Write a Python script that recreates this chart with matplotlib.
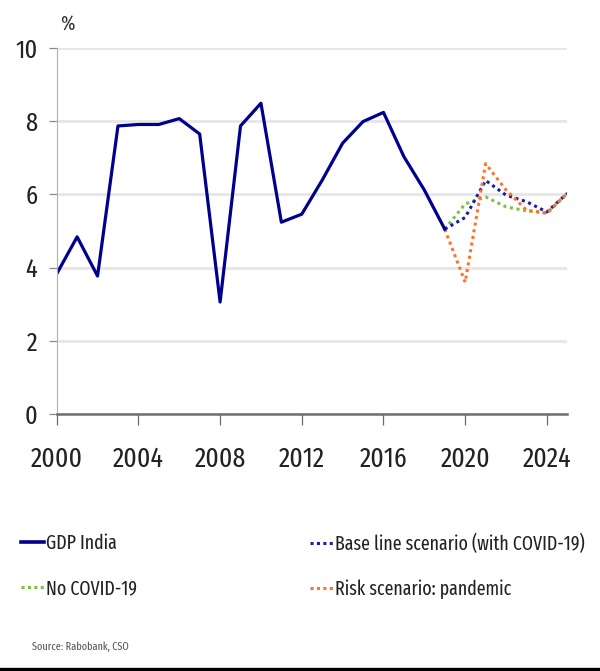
import matplotlib
matplotlib.use("Agg")
from matplotlib import pyplot as plt
from matplotlib.lines import Line2D

plt.rcParams['font.family'] = ['Fira Sans Extra Condensed', 'DejaVu Sans']

# historical GDP growth, %
years = list(range(2000, 2020))
gdp = [3.83, 4.84, 3.77, 7.87, 7.91, 7.91, 8.07, 7.65, 3.06, 7.87,
       8.49, 5.24, 5.46, 6.39, 7.40, 7.99, 8.24, 7.03, 6.12, 5.05]

# scenarios 2019-2025
scen_years = list(range(2019, 2026))
base_line = [5.05, 5.37, 6.38, 5.98, 5.80, 5.52, 6.03]
no_covid = [5.05, 5.74, 5.93, 5.66, 5.55, 5.50, 6.03]
risk = [5.05, 3.60, 6.84, 6.12, 5.57, 5.48, 6.03]

c_gdp = "#00008f"
c_base = "#1b1ba8"
c_nocov = "#7cc242"
c_risk = "#ff7327"
dots = (0, (1, 1.2))

fig = plt.figure(figsize=(6, 6.71), dpi=100)
ax = fig.add_axes([0.0945, 0.383, 0.851, 0.5455])

ax.grid(axis="y", color="#e6e6e6", linewidth=2)
ax.set_axisbelow(True)

ax.plot(scen_years, no_covid, color=c_nocov, linestyle=dots, linewidth=2.2)
ax.plot(scen_years, base_line, color=c_base, linestyle=dots, linewidth=2.2)
ax.plot(scen_years, risk, color=c_risk, linestyle=dots, linewidth=2.2)
ax.plot(years, gdp, color=c_gdp, linewidth=2.3)

ax.set_xlim(2000, 2025)
ax.set_ylim(0, 10)
ax.set_xticks(range(2000, 2025, 4))
ax.set_yticks(range(0, 11, 2))

for s in ["top", "right"]:
    ax.spines[s].set_visible(False)
ax.spines["left"].set_color("#b0b0b0")
ax.spines["left"].set_linewidth(0.8)
ax.spines["bottom"].set_color("#6e6e6e")
ax.spines["bottom"].set_linewidth(1.8)

ax.tick_params(axis="x", length=8, width=0.9, color="#6e6e6e", pad=15,
               labelsize=20, labelcolor="#222222")
ax.tick_params(axis="y", length=6, width=0.9, color="#8a8a8a", pad=8,
               labelsize=19, labelcolor="#222222")

fig.text(0.113, 0.965, "%", fontsize=15, color="#333333", ha="center", va="center")

h_gdp = Line2D([], [], color=c_gdp, linewidth=2.6)
h_base = Line2D([], [], color=c_base, linewidth=2.2, linestyle=(0, (1, 1.1)))
h_nocov = Line2D([], [], color=c_nocov, linewidth=2.2, linestyle=(0, (1, 1.1)))
h_risk = Line2D([], [], color=c_risk, linewidth=2.2, linestyle=(0, (1, 1.1)))

leg_kw = dict(loc="upper left", frameon=False, fontsize=14, handlelength=1.2,
              handletextpad=0.1, labelspacing=1.32, borderaxespad=0,
              borderpad=0, labelcolor="#222222")
fig.legend([h_gdp, h_nocov], ["GDP India", "No COVID-19"],
           bbox_to_anchor=(0.035, 0.205), **leg_kw)
fig.legend([h_base, h_risk], ["Base line scenario (with COVID-19)", "Risk scenario: pandemic"],
           bbox_to_anchor=(0.517, 0.205), **leg_kw)

fig.text(0.053, 0.036, "Source: Rabobank, CSO", fontsize=8, color="#555555",
         ha="left", va="center")

fig.add_artist(Line2D([0, 1], [0.003, 0.003], color="black", linewidth=2.4,
                      transform=fig.transFigure))

fig.savefig("out.png", dpi=100)
